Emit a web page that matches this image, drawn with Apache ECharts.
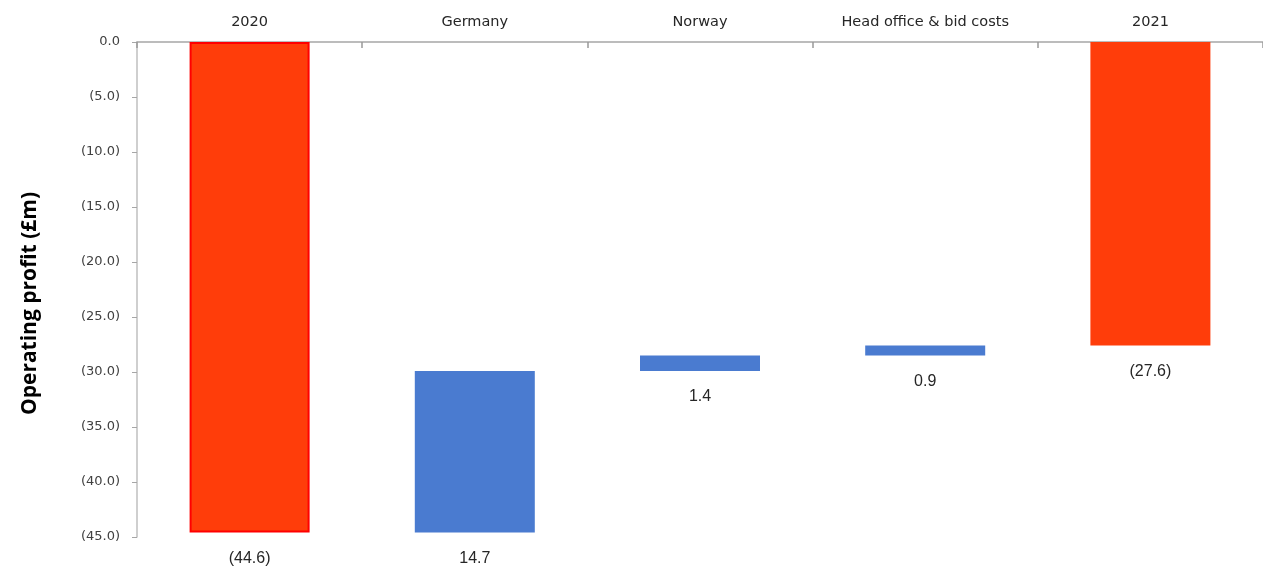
<!DOCTYPE html>
<html>
<head>
<meta charset="utf-8">
<script src="https://cdn.jsdelivr.net/npm/echarts@6/dist/echarts.min.js"></script>
<style>
  html, body { margin: 0; padding: 0; background: #fff; }
  #chart { width: 1263px; height: 573px; }
</style>
</head>
<body>
<div id="chart"></div>
<script>
// waterfall data (GBP m)
var categories = ['2020', 'Germany', 'Norway', 'Head office & bid costs', '2021'];
var openTotal = -44.6;
var changes = [14.7, 1.4, 0.9];   // Germany, Norway, Head office
var closeTotal = -27.6;
var yTicks = { min: -45, max: 0, step: 5 };

// build stack: invisible base + visible part
var baseData = ['-'];
var barData = [{ value: openTotal, itemStyle: { color: '#FF3D0A', borderColor: '#FF0000', borderWidth: 2 } }];
var running = openTotal;
for (var i = 0; i < changes.length; i++) {
    running = +(running + changes[i]).toFixed(1);
    baseData.push(running);
    barData.push({ value: -changes[i], itemStyle: { color: '#4A7BD0' } });
}
baseData.push('-');
barData.push({ value: closeTotal, itemStyle: { color: '#FF3D0A' } });

function totalFmt(v) {
    return '(' + Math.abs(v).toFixed(1) + ')';
}

var chart = echarts.init(document.getElementById('chart'));
chart.setOption({
    animation: false,
    grid: { left: 137, top: 42, width: 1132, height: 495 },
    xAxis: {
        type: 'category',
        position: 'top',
        data: categories,
        axisLine: { lineStyle: { color: '#A6A6A6', width: 1.5 } },
        axisTick: { show: true, inside: true, length: 6, interval: 0, lineStyle: { color: '#999', width: 1.5 } },
        axisLabel: { color: '#262626', fontFamily: 'DejaVu Sans', fontSize: 14.5, margin: 12 }
    },
    yAxis: {
        type: 'value',
        min: yTicks.min, max: yTicks.max, interval: yTicks.step,
        name: 'Operating profit (£m)',
        nameLocation: 'middle',
        nameGap: 96,
        nameTextStyle: { fontFamily: 'Open Sans', fontWeight: 'bold', fontSize: 21, color: '#000', padding: [0, 28, 0, 0] },
        axisLine: { show: true, lineStyle: { color: '#BFBFBF', width: 1.5 } },
        axisTick: { show: true, length: 5, lineStyle: { color: '#A6A6A6' } },
        splitLine: { show: false },
        axisLabel: {
            color: '#404040', fontFamily: 'DejaVu Sans', fontSize: 13, margin: 17,
            formatter: function (v) { return v === 0 ? '0.0' : totalFmt(v); }
        }
    },
    series: [{
        type: 'bar',
        stack: 'w',
        data: baseData,
        barWidth: 120,
        itemStyle: { color: 'transparent' },
        silent: true
    }, {
        type: 'bar',
        stack: 'w',
        data: barData,
        barWidth: 120,
        label: {
            show: true,
            position: 'bottom',
            distance: 18,
            color: '#262626',
            fontFamily: 'Liberation Sans',
            fontSize: 16,
            formatter: function (p) {
                var isTotal = p.dataIndex === 0 || p.dataIndex === categories.length - 1;
                return isTotal ? totalFmt(p.value) : Math.abs(p.value).toFixed(1);
            }
        }
    }]
});
</script>
</body>
</html>
